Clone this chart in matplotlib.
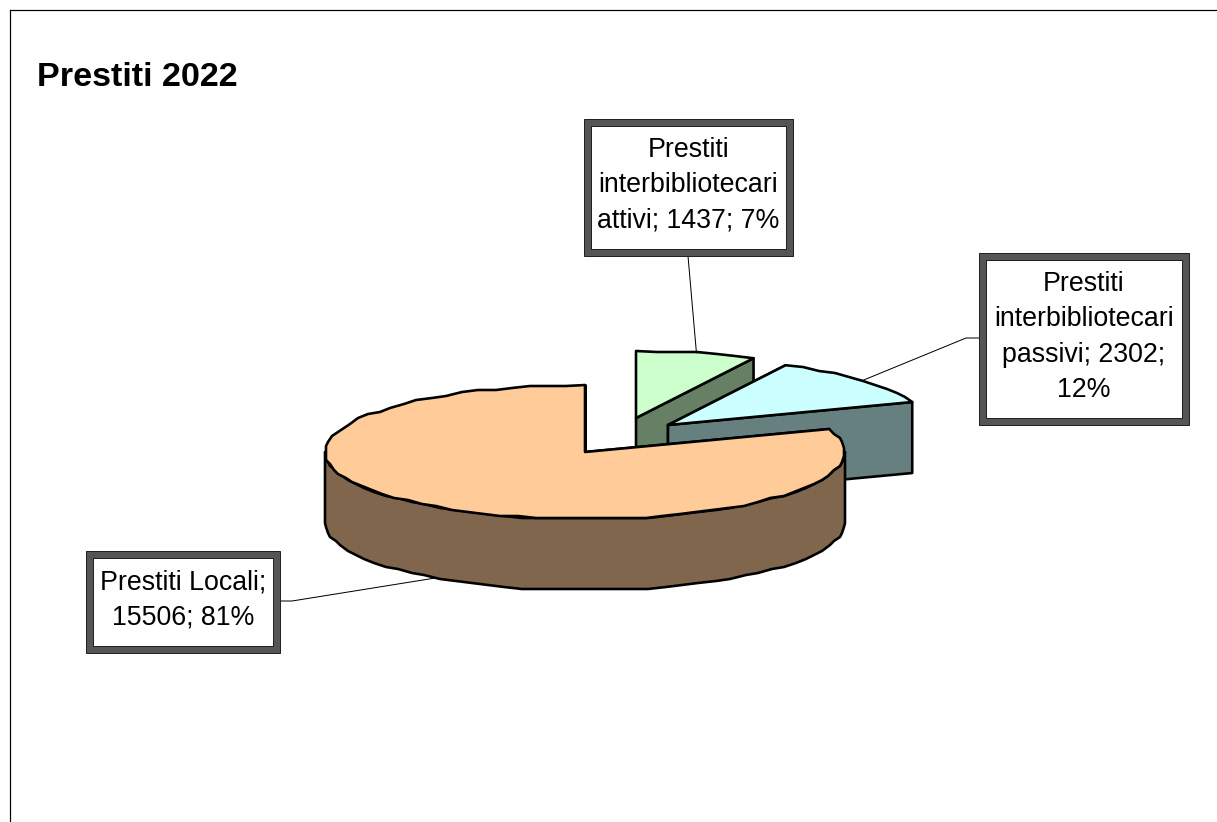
import numpy as np
import matplotlib
matplotlib.use("Agg")
import matplotlib.pyplot as plt
from matplotlib.patches import Polygon, Rectangle

title = "Prestiti 2022"
names = ["Prestiti interbibliotecari attivi", "Prestiti interbibliotecari passivi", "Prestiti Locali"]
values = [1437, 2302, 15506]
top_colors = ["#CCFFCC", "#CCFFFF", "#FFCC99"]
side_colors = ["#668066", "#668080", "#80664D"]
label_lines = [
    ["Prestiti", "interbibliotecari", "attivi; {v}; {p}%"],
    ["Prestiti", "interbibliotecari", "passivi; {v};", "{p}%"],
    ["Prestiti Locali;", "{v}; {p}%"],
]

W, H = 1217, 822
CX, CY, RX, RY, DEPTH = 585, 452, 260, 67, 71
offsets = [(51, -34), (83, -27), (0, 0)]
boxes = [(584, 119, 793, 256), (979, 253, 1189, 425), (86, 551, 280, 653)]
leader_ends = [(688, 256), (966, 338), (292, 601)]
leader_box = [None, (979, 338), (280, 601)]

plt.rcParams["font.family"] = ["Liberation Sans", "DejaVu Sans"]
fig = plt.figure(figsize=(W / 100, H / 100), dpi=100)
ax = fig.add_axes([0, 0, 1, 1])
ax.set_xlim(0, W)
ax.set_ylim(H, 0)
ax.axis("off")
PX = 0.72


def rim(t0, t1, ox, oy, dz=0.0):
    # slightly stepped outline like the original's low-resolution arcs
    n = max(2, int(abs(t1 - t0) / 4) + 1)
    t = np.radians(np.linspace(t0, t1, n))
    x = CX + RX * np.sin(t)
    y = CY - RY * np.cos(t)
    pts = np.column_stack([np.round(x / 2) * 2 + ox, np.round(y / 2) * 2 + oy + dz])
    pts[0] = [CX + ox + RX * np.sin(t[0]), CY + oy + dz - RY * np.cos(t[0])]
    pts[-1] = [CX + ox + RX * np.sin(t[-1]), CY + oy + dz - RY * np.cos(t[-1])]
    return pts


def apex(ox, oy, dz=0.0):
    return np.array([[CX + ox, CY + oy + dz]])


ax.plot([10, 10], [H, 10], color="black", lw=1.2 * PX, zorder=1)
ax.plot([10, W], [10, 10], color="black", lw=1.2 * PX, zorder=1)
ax.text(37, 77, title, fontsize=24.6, fontweight="bold", ha="left", va="center", color="black", zorder=5)

total = sum(values)
edges = np.concatenate([[0], np.cumsum(values)]) / total * 360
lw = 2.6 * PX
for i, v in enumerate(values):
    t0, t1 = edges[i], edges[i + 1]
    ox, oy = offsets[i]
    z = 2 + i
    # radial faces
    for t in (t0, t1):
        p = rim(t, t, ox, oy)[0:1]
        q = np.vstack([apex(ox, oy), p, p + [0, DEPTH], apex(ox, oy, DEPTH)])
        ax.add_patch(Polygon(q, closed=True, fc=side_colors[i], ec="black", lw=lw, joinstyle="round", zorder=z))
    # visible outer wall
    a, b = max(t0, 90), min(t1, 270)
    if a < b:
        up = rim(a, b, ox, oy)
        down = rim(b, a, ox, oy, DEPTH)
        ax.add_patch(Polygon(np.vstack([up, down]), closed=True, fc=side_colors[i], ec="black", lw=lw, joinstyle="round", zorder=z))
    # top face
    ax.add_patch(Polygon(np.vstack([apex(ox, oy), rim(t0, t1, ox, oy)]), closed=True, fc=top_colors[i], ec="black", lw=lw, joinstyle="round", zorder=z))

    # leader line from the middle of the arc
    tm = (t0 + t1) / 2
    m = rim(tm, tm, ox, oy, DEPTH if 90 < tm < 270 else 0)[0]
    pts = [m, leader_ends[i]]
    if leader_box[i] is not None:
        pts.append(leader_box[i])
    pts = np.array(pts, dtype=float)
    ax.plot(pts[:, 0], pts[:, 1], color="black", lw=1.0 * PX, zorder=6)

    # label box
    x0, y0, x1, y1 = boxes[i]
    ax.add_patch(Rectangle((x0, y0), x1 - x0, y1 - y0, fc="#555555", ec="#222222", lw=1.0 * PX, zorder=7))
    ax.add_patch(Rectangle((x0 + 7, y0 + 7), x1 - x0 - 14, y1 - y0 - 14, fc="white", ec="black", lw=0.8 * PX, zorder=8))
    pct = round(v / total * 100)
    txt = "\n".join(s.format(v=v, p=pct) for s in label_lines[i])
    ax.text((x0 + x1) / 2, (y0 + y1) / 2 - 2, txt, fontsize=19.3, ha="center", va="center",
            linespacing=1.47, color="black", zorder=9)

fig.savefig("out.png", dpi=100, facecolor="white")
